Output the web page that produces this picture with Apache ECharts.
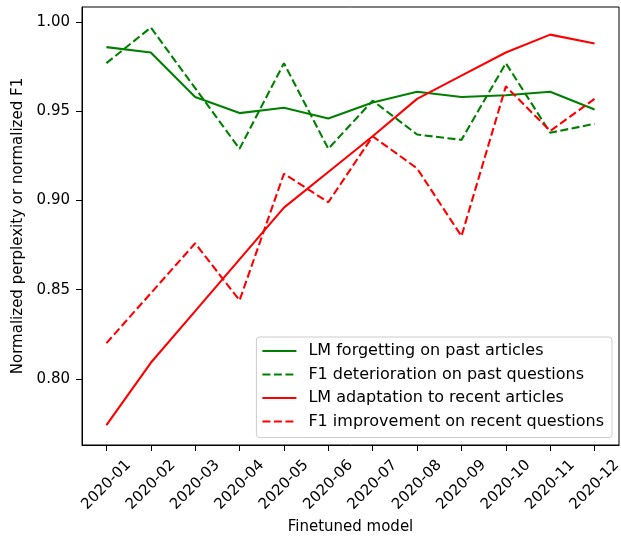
<!DOCTYPE html>
<html>
<head>
<meta charset="utf-8">
<script src="https://cdn.jsdelivr.net/npm/echarts@6/dist/echarts.min.js"></script>
<style>
  html, body { margin: 0; padding: 0; background: #fff; }
  #chart { width: 621px; height: 539px; }
</style>
</head>
<body>
<div id="chart"></div>
<script>
// 横轴类别
const months = ['2020-01', '2020-02', '2020-03', '2020-04', '2020-05', '2020-06',
  '2020-07', '2020-08', '2020-09', '2020-10', '2020-11', '2020-12']

// 各系列数值
const lmForgetting = [0.986, 0.983, 0.958, 0.949, 0.952, 0.946, 0.955, 0.961, 0.958, 0.959, 0.961, 0.951]
const f1Deterioration = [0.977, 0.997, 0.963, 0.929, 0.977, 0.929, 0.956, 0.937, 0.934, 0.977, 0.938, 0.943]
const lmAdaptation = [0.774, 0.809, 0.838, 0.867, 0.896, 0.916, 0.936, 0.957, 0.970, 0.983, 0.993, 0.988]
const f1Improvement = [0.820, 0.848, 0.876, 0.844, 0.915, 0.899, 0.936, 0.918, 0.880, 0.964, 0.939, 0.957]

const yTicks = [0.80, 0.85, 0.90, 0.95, 1.00]

const font = 'DejaVu Sans'
const fontSize = 15
const green = '#008000'
const red = '#ff0000'

const toPoints = arr => arr.map((v, i) => [i, v])

const makeSeries = (name, data, color, dashed) => ({
  name,
  type: 'line',
  data: toPoints(data),
  symbol: 'none',
  showSymbol: false,
  animation: false,
  itemStyle: { color },
  lineStyle: {
    color,
    width: 2.1,
    type: dashed ? [8, 3.5] : 'solid',
    cap: 'butt'
  }
})

const chart = echarts.init(document.getElementById('chart'), null, { renderer: 'canvas' })

chart.setOption({
  animation: false,
  backgroundColor: '#fff',
  grid: {
    left: 82,
    right: 2,
    top: 7,
    bottom: 94,
    show: true,
    borderColor: '#000',
    borderWidth: 1,
    containLabel: false,
    outerBoundsMode: 'none'
  },
  legend: {
    orient: 'vertical',
    right: 9,
    top: 337,
    padding: [6, 8, 8, 5],
    itemWidth: 34,
    itemHeight: 14,
    itemGap: 7.5,
    backgroundColor: 'rgba(255,255,255,0.8)',
    borderColor: '#cccccc',
    borderWidth: 1,
    borderRadius: 3,
    itemStyle: { opacity: 0 },
    textStyle: {
      fontFamily: font,
      fontSize: 16,
      color: '#000',
      padding: [0, 0, 0, 7]
    },
    data: ['LM forgetting on past articles', 'F1 deterioration on past questions',
      'LM adaptation to recent articles', 'F1 improvement on recent questions']
  },
  xAxis: {
    type: 'value',
    min: -0.55,
    max: 11.55,
    name: 'Finetuned model',
    nameLocation: 'middle',
    nameGap: 74,
    nameTextStyle: { fontFamily: font, fontSize: fontSize, color: '#000' },
    splitLine: { show: false },
    axisLine: { show: true, onZero: false, lineStyle: { color: '#000', width: 1 } },
    axisTick: {
      show: true,
      length: 6,
      customValues: months.map((m, i) => i),
      lineStyle: { color: '#000', width: 1 }
    },
    axisLabel: {
      fontFamily: font,
      fontSize: fontSize,
      color: '#000',
      rotate: 45,
      align: 'center',
      verticalAlign: 'middle',
      margin: 40,
      customValues: months.map((m, i) => i),
      formatter: v => months[Math.round(v)]
    }
  },
  yAxis: {
    type: 'value',
    min: 0.7629,
    max: 1.0085,
    name: 'Normalized perplexity or normalized F1',
    nameLocation: 'middle',
    nameGap: 54,
    nameTextStyle: { fontFamily: font, fontSize: fontSize, color: '#000' },
    splitLine: { show: false },
    axisLine: { show: true, onZero: false, lineStyle: { color: '#000', width: 1 } },
    axisTick: {
      show: true,
      length: 6,
      customValues: yTicks,
      lineStyle: { color: '#000', width: 1 }
    },
    axisLabel: {
      fontFamily: font,
      fontSize: fontSize,
      color: '#000',
      margin: 12,
      customValues: yTicks,
      formatter: v => v.toFixed(2)
    }
  },
  series: [
    makeSeries('LM forgetting on past articles', lmForgetting, green, false),
    makeSeries('F1 deterioration on past questions', f1Deterioration, green, true),
    makeSeries('LM adaptation to recent articles', lmAdaptation, red, false),
    makeSeries('F1 improvement on recent questions', f1Improvement, red, true)
  ]
})
</script>
</body>
</html>
